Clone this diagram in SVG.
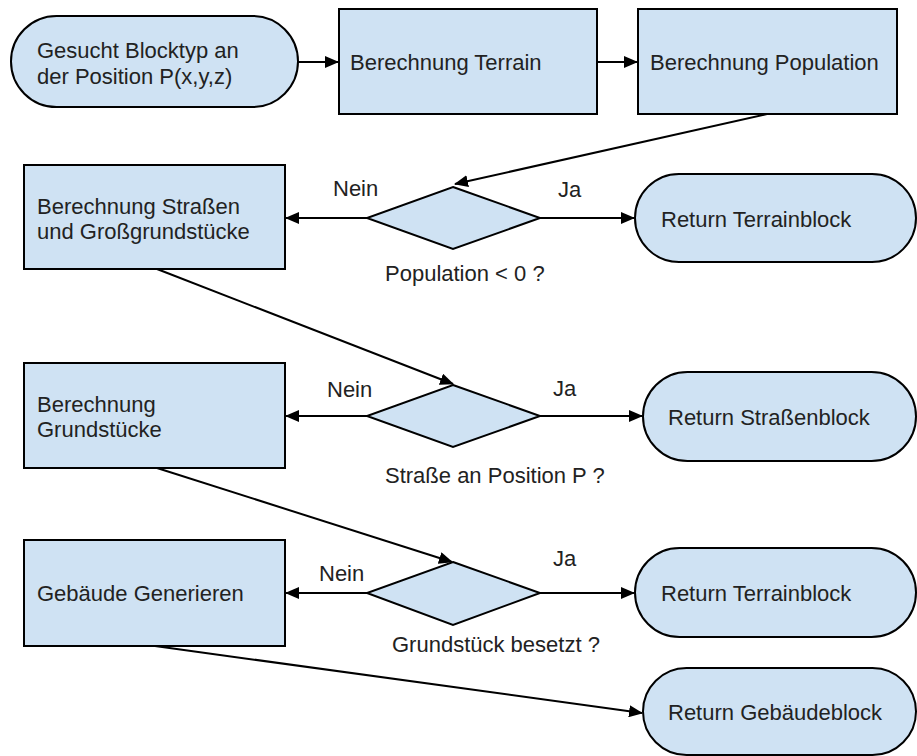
<svg xmlns="http://www.w3.org/2000/svg" width="917" height="756" viewBox="0 0 917 756">
<defs>
<style>
.n{fill:#cfe2f3;stroke:#000;stroke-width:2}
.t{font-family:"Liberation Sans",Arial,sans-serif;font-size:22px;fill:#222}
.c{fill:none;stroke:#000;stroke-width:2}
</style>
<marker id="a" markerUnits="userSpaceOnUse" markerWidth="14" markerHeight="12" refX="13" refY="6" orient="auto">
<path d="M0,0 L14,6 L0,12 Z" fill="#000"/>
</marker>
</defs>
<rect width="917" height="756" fill="#fff"/>
<g id="connectors">
<line class="c" x1="298" y1="62" x2="338" y2="62" marker-end="url(#a)"/>
<line class="c" x1="597" y1="62" x2="637" y2="62" marker-end="url(#a)"/>
<line class="c" x1="767" y1="114" x2="455" y2="184" marker-end="url(#a)"/>
<line class="c" x1="367" y1="218" x2="286" y2="218" marker-end="url(#a)"/>
<line class="c" x1="540" y1="218" x2="634" y2="218" marker-end="url(#a)"/>
<line class="c" x1="157" y1="269" x2="453" y2="384" marker-end="url(#a)"/>
<line class="c" x1="367" y1="416" x2="286" y2="416" marker-end="url(#a)"/>
<line class="c" x1="540" y1="416" x2="642" y2="416" marker-end="url(#a)"/>
<line class="c" x1="157" y1="468" x2="452" y2="562" marker-end="url(#a)"/>
<line class="c" x1="367" y1="593" x2="286" y2="593" marker-end="url(#a)"/>
<line class="c" x1="540" y1="593" x2="634" y2="593" marker-end="url(#a)"/>
<line class="c" x1="155" y1="646" x2="642" y2="713" marker-end="url(#a)"/>
<text class="t" x="333" y="196">Nein</text>
<text class="t" x="558" y="197">Ja</text>
<text class="t" x="327" y="397">Nein</text>
<text class="t" x="553" y="396">Ja</text>
<text class="t" x="319" y="581">Nein</text>
<text class="t" x="553" y="566">Ja</text>
</g>
<g id="start">
<rect class="n" x="11" y="16" width="287" height="91" rx="45.5"/>
<text class="t" x="37" y="58">Gesucht Blocktyp an</text>
<text class="t" x="37" y="84">der Position P(x,y,z)</text>
</g>
<g id="terrain">
<rect class="n" x="339" y="9" width="258" height="105"/>
<text class="t" x="350" y="70">Berechnung Terrain</text>
</g>
<g id="population">
<rect class="n" x="638" y="9" width="259" height="105"/>
<text class="t" x="650" y="70">Berechnung Population</text>
</g>
<g id="d1">
<polygon class="n" points="453,187 540,218 453,249 367,218"/>
<text class="t" x="385" y="281">Population &lt; 0 ?</text>
</g>
<g id="strassen">
<rect class="n" x="24" y="165" width="261" height="104"/>
<text class="t" x="37" y="214">Berechnung Straßen</text>
<text class="t" x="37" y="239">und Großgrundstücke</text>
</g>
<g id="ret1">
<rect class="n" x="635" y="174" width="281" height="88" rx="44"/>
<text class="t" x="661" y="227">Return Terrainblock</text>
</g>
<g id="d2">
<polygon class="n" points="453,385 540,416 453,447 367,416"/>
<text class="t" x="385" y="483">Straße an Position P ?</text>
</g>
<g id="grundstuecke">
<rect class="n" x="24" y="363" width="261" height="105"/>
<text class="t" x="37" y="412">Berechnung</text>
<text class="t" x="37" y="437">Grundstücke</text>
</g>
<g id="ret2">
<rect class="n" x="643" y="372" width="273" height="89" rx="44.5"/>
<text class="t" x="668" y="425">Return Straßenblock</text>
</g>
<g id="d3">
<polygon class="n" points="453,562 540,593 453,625 367,593"/>
<text class="t" x="392" y="652">Grundstück besetzt ?</text>
</g>
<g id="gebaeude">
<rect class="n" x="24" y="540" width="261" height="106"/>
<text class="t" x="37" y="601">Gebäude Generieren</text>
</g>
<g id="ret3">
<rect class="n" x="635" y="548" width="281" height="89" rx="44.5"/>
<text class="t" x="661" y="601">Return Terrainblock</text>
</g>
<g id="ret4">
<rect class="n" x="643" y="668" width="273" height="87" rx="43.5"/>
<text class="t" x="668" y="720">Return Gebäudeblock</text>
</g>
</svg>
